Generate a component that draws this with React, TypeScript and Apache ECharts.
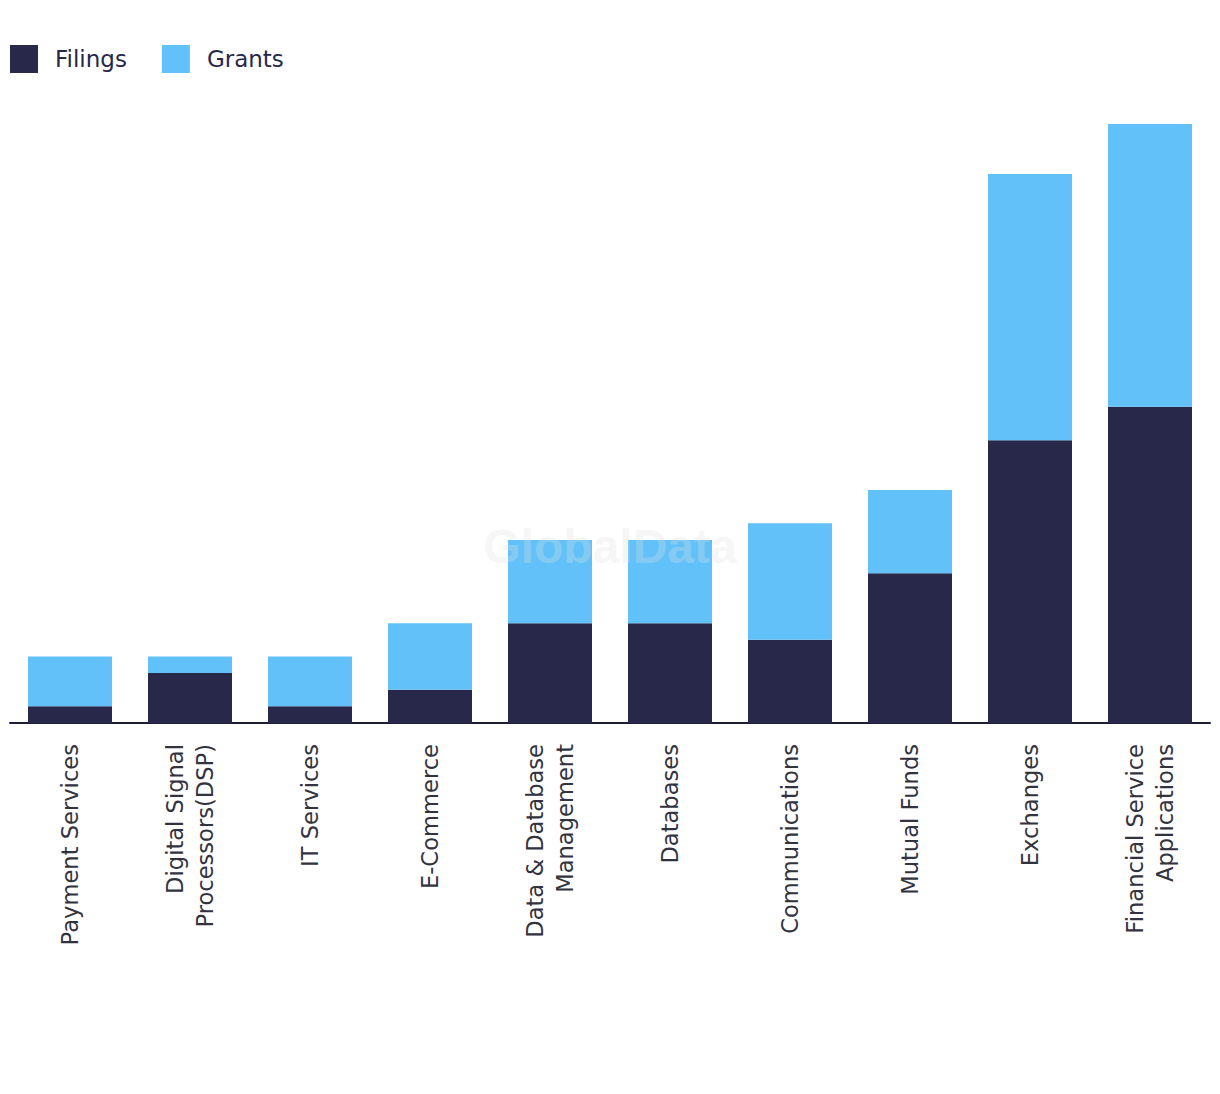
import React, { useEffect, useRef } from "react";
import * as echarts from "echarts";

const categories = [
  "Payment Services",
  "Digital Signal\nProcessors(DSP)",
  "IT Services",
  "E-Commerce",
  "Data & Database\nManagement",
  "Databases",
  "Communications",
  "Mutual Funds",
  "Exchanges",
  "Financial Service\nApplications",
];
const filings = [1, 3, 1, 2, 6, 6, 5, 9, 17, 19];
const grants = [3, 1, 3, 4, 5, 5, 7, 5, 16, 17];

const FONT = "DejaVu Sans, sans-serif";

export default function App() {
  const ref = useRef<HTMLDivElement>(null);
  useEffect(() => {
    const chart = echarts.init(ref.current!, null, { renderer: "svg" });
    chart.setOption({
      animation: false,
      backgroundColor: "#ffffff",
      legend: {
        left: 10,
        top: 45,
        padding: 0,
        itemWidth: 28,
        itemHeight: 28,
        itemGap: 35,
        icon: "rect",
        textStyle: { fontSize: 23, color: "#27284a", fontFamily: FONT, padding: [0, 0, 0, 12] },
        data: ["Filings", "Grants"],
      },
      grid: { left: 10, right: 10, top: 124, bottom: 371, containLabel: false },
      xAxis: {
        type: "category",
        data: categories,
        axisLine: { lineStyle: { color: "#1b1c36", width: 2 } },
        axisTick: { show: false },
        axisLabel: {
          rotate: 90,
          interval: 0,
          margin: 21,
          fontSize: 22.6,
          lineHeight: 30,
          color: "#333340",
          fontFamily: FONT,
          align: "right",
        },
      },
      yAxis: {
        type: "value",
        min: 0,
        max: 36,
        show: false,
        splitLine: { show: false },
      },
      series: [
        {
          name: "Filings",
          type: "bar",
          stack: "total",
          data: filings,
          barWidth: "70%",
          itemStyle: { color: "#27284a" },
        },
        {
          name: "Grants",
          type: "bar",
          stack: "total",
          data: grants,
          barWidth: "70%",
          itemStyle: { color: "#62c1f8" },
        },
      ],
      graphic: [
        {
          type: "text",
          left: "center",
          top: 522,
          z: 100,
          style: {
            text: "GlobalData",
            fontSize: 48,
            fontWeight: "bold",
            fontFamily: "Liberation Sans, Arial, sans-serif",
            fill: "rgba(225,225,225,0.3)",
          },
        },
      ],
    });
    return () => chart.dispose();
  }, []);
  return (
    <div
      ref={ref}
      style={{ position: "absolute", left: 0, top: 0, width: 1220, height: 1094 }}
    />
  );
}
